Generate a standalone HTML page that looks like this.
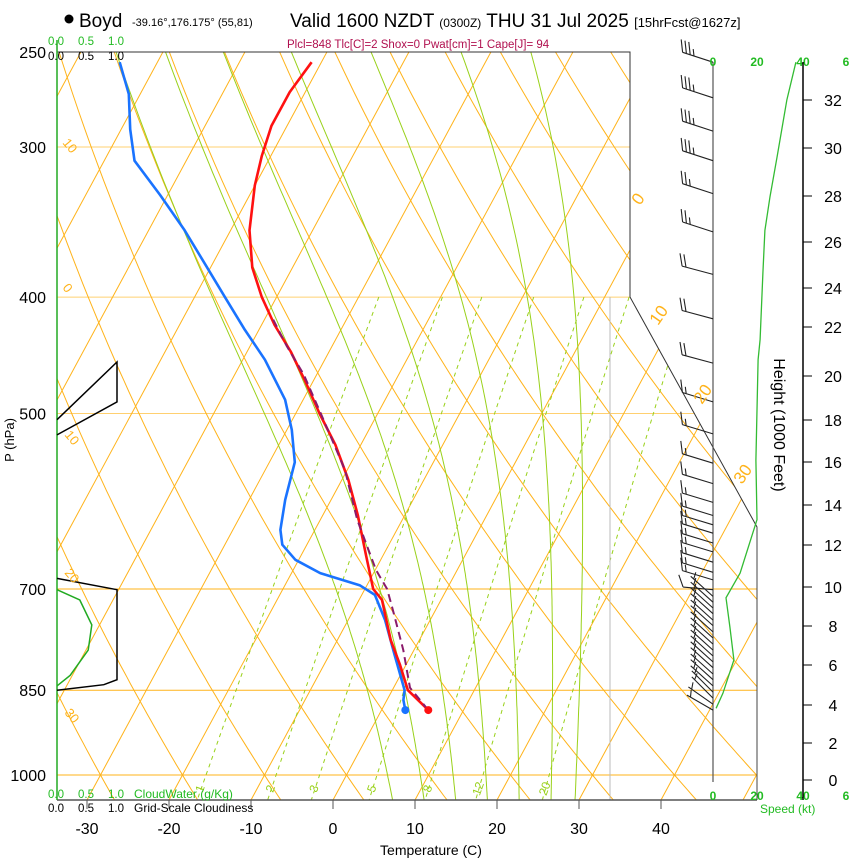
<!DOCTYPE html>
<html><head><meta charset="utf-8"><title>Skew-T Boyd</title>
<style>
html,body{margin:0;padding:0;background:#fff;}
svg{display:block;font-family:"Liberation Sans",Arial,sans-serif;}
</style></head>
<body>
<svg id="chart" width="850" height="860" viewBox="0 0 850 860" xmlns="http://www.w3.org/2000/svg">
<defs><clipPath id="plotClip"><polygon points="57,52 630,52 630,297 757,527 757,800 57,800"/></clipPath></defs>
<g id="title">
  <circle cx="69" cy="19" r="4.5" fill="#000"/>
  <text x="79" y="27" font-size="19">Boyd</text>
  <text x="132" y="26" font-size="11">-39.16°,176.175° (55,81)</text>
  <text x="290" y="27" font-size="19">Valid 1600 NZDT <tspan font-size="12">(0300Z)</tspan> THU 31 Jul 2025 <tspan font-size="13">[15hrFcst@1627z]</tspan></text>
  <text x="287" y="48" font-size="11.5" fill="#b0104f">Plcl=848 Tlc[C]=2 Shox=0 Pwat[cm]=1 Cape[J]= 94</text>
</g>
<g id="bg" clip-path="url(#plotClip)"></g>
<g id="frame"></g>
<g id="cloud"></g>
<g id="traces"></g>
<g id="wind"></g>
<g id="axes"></g>
</svg>
<script>
// ---------- data ----------
const tempP = [255,270,288,305,323,352,378,400,422,444,469,500,531,568,608,656,700,715,772,810,850,883];
const tempT = [-51.2,-51.9,-51.9,-51.1,-50.0,-47.7,-44.9,-41.8,-38.4,-34.7,-31.1,-27.1,-23.1,-19.2,-15.7,-12.1,-9.0,-7.2,-3.5,-0.7,1.9,5.7];
const dewP = [255,271,290,308,329,352,376,400,426,451,487,516,549,590,625,643,662,679,695,708,743,795,850,866,883];
const dewT = [-74.6,-71.4,-68.9,-66.3,-60.9,-55.6,-50.8,-46.3,-41.7,-37.3,-32.2,-29.4,-26.9,-25.6,-24.2,-23.0,-20.4,-16.5,-10.9,-8.4,-5.5,-2.0,1.5,2.0,2.9];
const parcelP = [883,846,787,729,700,675,613,557,506,464,439,416];
const parcelT = [5.7,2.0,-1.3,-5.2,-7.3,-9.9,-15.5,-20.3,-26.2,-31.6,-35.6,-39.2];
const windP = [255,273,291,308,328,353,383,417,454,489,520,550,572,593,608,619,629,641,652,665,678,688,701,710,718,726,734,743,751,760,769,778,787,796,805,814,824,833,843,853,863,873,883];
const windDir = [288,288,288,288,288,288,285,285,285,287,287,287,287,287,287,287,287,287,287,287,287,287,275,312,312,312,312,312,312,312,312,312,312,312,312,312,312,312,312,315,315,305,300];
const windSpd = [35,35,35,35,25,25,20,20,20,15,15,15,15,15,15,15,15,15,15,15,15,15,10,5,5,5,5,5,5,5,5,5,5,5,5,5,5,5,5,5,5,5,5];
const speedP = [255,274,306,330,352,382,434,451,547,613,679,712,753,802,855,880];
const speedKt = [37.7,33.6,29.1,25.9,23.6,22.7,21.4,20.5,19.5,20,12.3,5.9,7.7,9.5,4.5,1.4];
const cloudUpperP = [506,453,489,521];
const cloudUpperFrac = [0,1,1,0];
const cloudLowerP = [686,701,833,841,850];
const cloudLowerFrac = [0,1,1,0.78,0];
const cloudWaterP = [701,715,750,787,826,843];
const cloudWater = [0,0.38,0.58,0.52,0.22,0];
const pLevels = [250,300,400,500,700,850,1000];
const tTicks = [-30,-20,-10,0,10,20,30,40];
const mixRatios = [1,2,3,5,8,12,20];
const isotherms = [-120,-110,-100,-90,-80,-70,-60,-50,-40,-30,-20,-10,0,10,20,30,40,50,60];
const dryThetas = [-40,-30,-20,-10,0,10,20,30,40,50,60,70,80,90,100,110,120,130,140,150];
const moistThetaW = [5,9,13,17,21,25,28];
const heightKft = [0,2,4,6,8,10,12,14,16,18,20,22,24,26,28,30,32];
const heightY = [780,743,705,665,626,587,545,505,462,420,376,327,288,242,196,148,100];

// ---------- axis functions ----------
const yP = p => 775 - 521.6*Math.log(1000/p);
const xT = (T,y) => 333 + 8.2*T + 0.54*(800-y);
const xSpeed = s => 713 + 2.2*s;
const xCloud = f => 57 + 60*f;
const xWater = w => 57 + 60*w;
const NS = "http://www.w3.org/2000/svg";
function mk(tag, attrs, parent){const e=document.createElementNS(NS,tag);for(const k in attrs)e.setAttribute(k,attrs[k]);parent.appendChild(e);return e;}
function ptsStr(a){return a.map(q=>q[0].toFixed(1)+","+q[1].toFixed(1)).join(" ");}
const bg=document.getElementById('bg'), frame=document.getElementById('frame'), cloud=document.getElementById('cloud'),
      traces=document.getElementById('traces'), wind=document.getElementById('wind'), axes=document.getElementById('axes');
const OR="#ffb31a", GR="#99d11a";

pLevels.forEach(p=>{ if(p===250) return;
  const y=yP(p);
  const l=mk('line',{x1:57,y1:y,x2:757,y2:y,stroke:(p>=700?OR:"#ffd070"),'stroke-width':1},bg);
  
  
});
isotherms.forEach(T=>{
  const l=mk('line',{x1:xT(T,800),y1:800,x2:xT(T,40),y2:40,stroke:OR,'stroke-width':1},bg);
  
  
});
dryThetas.forEach(th=>{
  const a=[];
  for(let p=200;p<=1060;p+=10){const T=(th+273.15)*Math.pow(p/1000,0.286)-273.15;const y=yP(p);a.push([xT(T,y),y]);}
  const l=mk('polyline',{points:ptsStr(a),fill:'none',stroke:OR,'stroke-width':1},bg);
  
  
});
function es(T){return 6.112*Math.exp(17.67*T/(T+243.5));}
function moistLapse(p,T){const Tk=T+273.15;const e=es(T);const rs=0.622*e/(p-e);const Rd=287,Lv=2.5e6,cp=1004,eps=0.622;
  return (Rd*Tk+Lv*rs)/(cp+Lv*Lv*rs*eps/(Rd*Tk*Tk))/p;}
moistThetaW.forEach(tw=>{
  const up=[];let T=tw;
  for(let p=1000;p>=240;p-=5){const y=yP(p);up.push([xT(T,y),y]);T-=moistLapse(p,T)*5;}
  const dn=[];T=tw;
  for(let p=1000;p<=1060;p+=5){const y=yP(p);dn.push([xT(T,y),y]);T+=moistLapse(p,T)*5;}
  const a=dn.reverse().concat(up);
  const l=mk('polyline',{points:ptsStr(a),fill:'none',stroke:GR,'stroke-width':1},bg);
  
  
});
function tdFromW(w,p){const e=w*p/(622+w);const L=Math.log(e/6.112);return 243.5*L/(17.67-L);}
mixRatios.forEach(w=>{
  const a=[];
  for(let p=400;p<=1050;p+=10){const y=yP(p);a.push([xT(tdFromW(w,p),y),y]);}
  const l=mk('polyline',{points:ptsStr(a),fill:'none',stroke:GR,'stroke-width':1,'stroke-dasharray':'4,4'},bg);
  
  
  const yl=790, xl=xT(tdFromW(w,1040),yl)+2;
  const t=mk('text',{x:xl,y:yl,'font-size':12,fill:GR,'text-anchor':'middle',transform:`rotate(-70 ${xl} ${yl})`},bg);
  t.textContent=w;
  
  
});
mk('line',{x1:610,y1:297,x2:610,y2:800,stroke:'#bbbbbb','stroke-width':1,},bg);

[[62,143,'10',50],[62,288,'0',50],[64,435,'10',50],[64,573,'20',50],[64,713,'30',50],
 [640,206,'0',-55],[658,326,'10',-55],[702,405,'20',-55],[742,485,'30',-55]].forEach(d=>{
  const t=mk('text',{x:d[0],y:d[1],'font-size':d[0]>600?17:13,fill:OR,transform:`rotate(${d[3]} ${d[0]} ${d[1]})`},axes);
  t.textContent=d[2];
  
  
});

mk('polyline',{points:"57,52 630,52 630,297 757,527 757,800",fill:'none',stroke:'#333','stroke-width':1,},frame);
mk('line',{x1:57,y1:800,x2:757,y2:800,stroke:'#555','stroke-width':1.5,},frame);
mk('line',{x1:57,y1:40,x2:57,y2:800,stroke:'#22aa22','stroke-width':1.5,},frame);

const cu=cloudUpperP.map((p,i)=>[xCloud(cloudUpperFrac[i]),yP(p)]);
const cl1=mk('polyline',{points:ptsStr(cu),fill:'none',stroke:'#000','stroke-width':1.5},cloud);


const clo=cloudLowerP.map((p,i)=>[xCloud(cloudLowerFrac[i]),yP(p)]);
const cl2=mk('polyline',{points:ptsStr(clo),fill:'none',stroke:'#000','stroke-width':1.5},cloud);


const cw=cloudWaterP.map((p,i)=>[xWater(cloudWater[i]),yP(p)]);
const cl3=mk('polyline',{points:ptsStr(cw),fill:'none',stroke:'#22aa22','stroke-width':1.5},cloud);



function trace(P,T,color,w,dash,name){
  const a=P.map((p,i)=>{const y=yP(p);return [xT(T[i],y),y];});
  const l=mk('polyline',{points:ptsStr(a),fill:'none',stroke:color,'stroke-width':w,'stroke-linejoin':'round'},traces);
  if(dash) l.setAttribute('stroke-dasharray',dash);
  
  
  return a;
}
const dA=trace(dewP,dewT,'#1a73ff',2.6,null,'dewpoint-line');
const tA=trace(tempP,tempT,'#ff1111',2.6,null,'temperature-line');
trace(parcelP,parcelT,'#8b1a6b',2,'8,5','parcel-path');
const d1=mk('circle',{cx:dA[dA.length-1][0],cy:dA[dA.length-1][1],r:4,fill:'#1a73ff'},traces);


const d2=mk('circle',{cx:tA[tA.length-1][0],cy:tA[tA.length-1][1],r:4,fill:'#ff1111'},traces);



mk('line',{x1:713,y1:62,x2:713,y2:782,stroke:'#555','stroke-width':1.2,},wind);
mk('line',{x1:757,y1:527,x2:757,y2:800,stroke:'#444','stroke-width':1,},wind);
windP.forEach((p,i)=>{
  const y=yP(p),d=windDir[i]*Math.PI/180,L=(p>700?30:32);
  const ux=Math.sin(d),uy=-Math.cos(d);
  const tx=713+ux*L,ty=y+uy*L;
  let path=`M713,${y.toFixed(1)} L${tx.toFixed(1)},${ty.toFixed(1)}`;
  let px=-uy,py=ux; if(py>0){px=-px;py=-py;}
  let fx=px+0.45*ux,fy=py+0.45*uy;const fn=Math.hypot(fx,fy);fx/=fn;fy/=fn;
  let s=windSpd[i],k=0;
  while(s>=10){const bx=tx-ux*k*4,by=ty-uy*k*4;path+=` M${bx.toFixed(1)},${by.toFixed(1)} l${(fx*13).toFixed(1)},${(fy*13).toFixed(1)}`;s-=10;k++;}
  if(s>=5){if(k===0)k=1;const bx=tx-ux*k*4,by=ty-uy*k*4;path+=` M${bx.toFixed(1)},${by.toFixed(1)} l${(fx*7).toFixed(1)},${(fy*7).toFixed(1)}`;}
  const b=mk('path',{d:path,fill:'none',stroke:'#222','stroke-width':1.1},wind);
  
  
});
const sp=speedP.map((p,i)=>[xSpeed(speedKt[i]),yP(p)]);
const spl=mk('polyline',{points:ptsStr(sp),fill:'none',stroke:'#33bb33','stroke-width':1.3},wind);


[[713,'0'],[757,'20'],[803,'40'],[846,'6']].forEach(d=>{
  [66,800].forEach(yy=>{
    const t=mk('text',{x:d[0],y:yy,'font-size':12,'font-weight':'bold',fill:'#22bb22','text-anchor':'middle'},wind);
    t.textContent=d[1];
    
    
  });
});
mk('text',{x:760,y:813,'font-size':12,fill:'#22bb22',},wind).textContent='Speed (kt)';

mk('line',{x1:803,y1:62,x2:803,y2:800,stroke:'#000','stroke-width':1.5,},axes);
heightKft.forEach((h,i)=>{
  const y=heightY[i];
  const tk=mk('line',{x1:803,y1:y,x2:812,y2:y,stroke:'#000','stroke-width':1},axes);
  
  
  const t=mk('text',{x:833,y:y+6,'font-size':16,'text-anchor':'middle'},axes);
  t.textContent=h;
  
  
});
mk('text',{x:774,y:425,'font-size':16,'text-anchor':'middle',transform:'rotate(90 774 425)',},axes).textContent='Height (1000 Feet)';

pLevels.forEach(p=>{
  const t=mk('text',{x:46,y:yP(p)+6,'font-size':16,'text-anchor':'end'},axes);
  t.textContent=p;
  
  
});
mk('text',{x:14,y:440,'font-size':13,'text-anchor':'middle',transform:'rotate(-90 14 440)',},axes).textContent='P (hPa)';
tTicks.forEach(T=>{
  const x=xT(T,800);
  const tk=mk('line',{x1:x,y1:800,x2:x,y2:809,stroke:'#555','stroke-width':1},axes);
  
  
  const t=mk('text',{x:x,y:834,'font-size':16,'text-anchor':'middle'},axes);
  t.textContent=T;
  
  
});
mk('text',{x:431,y:855,'font-size':14,'text-anchor':'middle',},axes).textContent='Temperature (C)';
[[48,'0.0'],[78,'0.5'],[108,'1.0']].forEach(d=>{
  [45,798].forEach(yy=>{
    const t=mk('text',{x:d[0],y:yy,'font-size':11.5,fill:'#22bb22'},axes);t.textContent=d[1];
    
    
  });
  [60,812].forEach(yy=>{
    const t=mk('text',{x:d[0],y:yy,'font-size':11.5,fill:'#000'},axes);t.textContent=d[1];
    
    
  });
});
mk('text',{x:134,y:798,'font-size':12,fill:'#22bb22',},axes).textContent='CloudWater (g/Kg)';
mk('text',{x:134,y:812,'font-size':12,fill:'#000',},axes).textContent='Grid-Scale Cloudiness';
</script>
</body></html>
